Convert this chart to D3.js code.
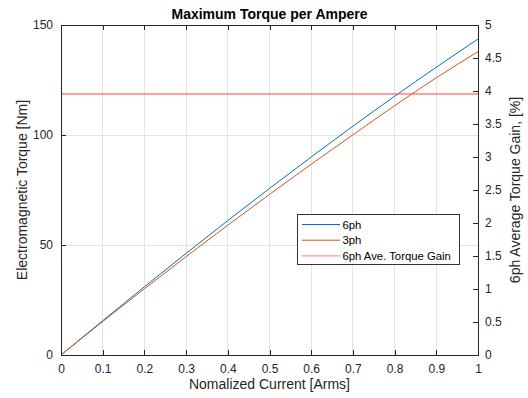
<!DOCTYPE html>
<html><head><meta charset="utf-8">
<script src="https://cdn.jsdelivr.net/npm/d3@7"></script>
<style>body{margin:0;background:#fff}svg{display:block}text{font-family:Arial,"Liberation Sans",Helvetica,sans-serif}</style>
</head><body><svg id="c" width="528" height="398"></svg>
<script>
const current = [0, 0.1, 0.2, 0.3, 0.4, 0.5, 0.6, 0.7, 0.8, 0.9, 1.0];
const torque6ph = [0, 15.6, 31.0, 46.2, 61.1, 75.7, 90.0, 104.0, 117.6, 130.8, 143.6];
const torque3ph = [0, 15.2, 30.1, 44.7, 59.0, 73.0, 86.7, 100.1, 113.3, 126.0, 137.9];
const avgGain = 3.955;
const xTicks = [0, 0.1, 0.2, 0.3, 0.4, 0.5, 0.6, 0.7, 0.8, 0.9, 1];
const yTicks = [0, 50, 100, 150];
const y2Ticks = [0, 0.5, 1, 1.5, 2, 2.5, 3, 3.5, 4, 4.5, 5];
const legendLabels = ["6ph", "3ph", "6ph Ave. Torque Gain"];

const svg = d3.select("#c");
const L = 61, R = 478, T = 25, B = 355;
const x = d3.scaleLinear().domain([0, 1]).range([L, R]);
const y = d3.scaleLinear().domain([0, 150]).range([B, T]);
const y2 = d3.scaleLinear().domain([0, 5]).range([B, T]);
const ink = "#262626";

// grid
const g = svg.append("g");
g.selectAll(".gx").data(xTicks.filter(d => d > 0 && d < 1)).enter().append("line")
  .attr("x1", d => x(d)).attr("x2", d => x(d)).attr("y1", T).attr("y2", B)
  .attr("stroke", "#e3e3e3").attr("stroke-width", 1).attr("shape-rendering", "crispEdges");
g.selectAll(".gy").data(yTicks.filter(d => d > 0 && d < 150)).enter().append("line")
  .attr("x1", L).attr("x2", R).attr("y1", d => y(d)).attr("y2", d => y(d))
  .attr("stroke", "#e3e3e3").attr("stroke-width", 1).attr("shape-rendering", "crispEdges");

// lines
const line = d3.line().x((d, i) => x(current[i])).y(d => y(d)).curve(d3.curveMonotoneX);
svg.append("path").datum(torque6ph).attr("d", line).attr("fill", "none").attr("stroke", "#0072BD").attr("stroke-width", 1);
svg.append("path").datum(torque3ph).attr("d", line).attr("fill", "none").attr("stroke", "#D95319").attr("stroke-width", 1);
svg.append("line").attr("x1", x(0)).attr("x2", x(1)).attr("y1", y2(avgGain)).attr("y2", y2(avgGain))
  .attr("stroke", "#ff4040").attr("stroke-width", 1);

// axes
const fs = "12px";
const ax = svg.append("g").attr("transform", `translate(0,${B})`)
  .call(d3.axisBottom(x).tickValues(xTicks).tickFormat(d3.format("~g")).tickSizeInner(-5).tickSizeOuter(0).tickPadding(9));
const axT = svg.append("g").attr("transform", `translate(0,${T})`)
  .call(d3.axisTop(x).tickValues(xTicks).tickFormat("").tickSizeInner(-5).tickSizeOuter(0));
const ayL = svg.append("g").attr("transform", `translate(${L},0)`)
  .call(d3.axisLeft(y).tickValues(yTicks).tickSizeInner(-5).tickSizeOuter(0).tickPadding(8));
const ayR = svg.append("g").attr("transform", `translate(${R},0)`)
  .call(d3.axisRight(y2).tickValues(y2Ticks).tickFormat(d3.format("~g")).tickSizeInner(-5).tickSizeOuter(0).tickPadding(7));
[ax, axT, ayL, ayR].forEach(a => {
  a.selectAll("path.domain").attr("stroke", ink).attr("stroke-width", 1).attr("shape-rendering", "crispEdges");
  a.selectAll("line").attr("stroke", ink).attr("shape-rendering", "crispEdges");
  a.selectAll("text").attr("fill", ink).style("font-size", fs).style("font-family", "Arial, 'Liberation Sans', sans-serif");
});

// titles
svg.append("text").attr("x", (L + R) / 2).attr("y", 19).attr("text-anchor", "middle")
  .style("font-size", "14px").style("font-weight", "bold").attr("fill", "#000").text("Maximum Torque per Ampere");
svg.append("text").attr("x", (L + R) / 2).attr("y", 389).attr("text-anchor", "middle")
  .style("font-size", "14px").attr("fill", ink).text("Nomalized Current [Arms]");
svg.append("text").attr("transform", `translate(27,${(T + B) / 2}) rotate(-90)`).attr("text-anchor", "middle")
  .style("font-size", "14px").attr("fill", ink).text("Electromagnetic Torque [Nm]");
svg.append("text").attr("transform", `translate(520,${(T + B) / 2}) rotate(-90)`).attr("text-anchor", "middle")
  .style("font-size", "14px").attr("fill", ink).text("6ph Average Torque Gain, [%]");

// legend
const lg = svg.append("g");
lg.append("rect").attr("x", 297.5).attr("y", 214.5).attr("width", 162).attr("height", 50)
  .attr("fill", "#fff").attr("stroke", "#333").attr("stroke-width", 1);
const legColors = ["#0072BD", "#D95319", "#ff7f7f"];
legendLabels.forEach((t, i) => {
  const yy = 224.5 + i * 15.7;
  lg.append("line").attr("x1", 302).attr("x2", 340).attr("y1", yy).attr("y2", yy).attr("stroke", legColors[i]).attr("stroke-width", 1);
  lg.append("text").attr("x", 342.5).attr("y", yy + 4).style("font-size", "11.3px").attr("fill", "#000").text(t);
});
</script></body></html>
